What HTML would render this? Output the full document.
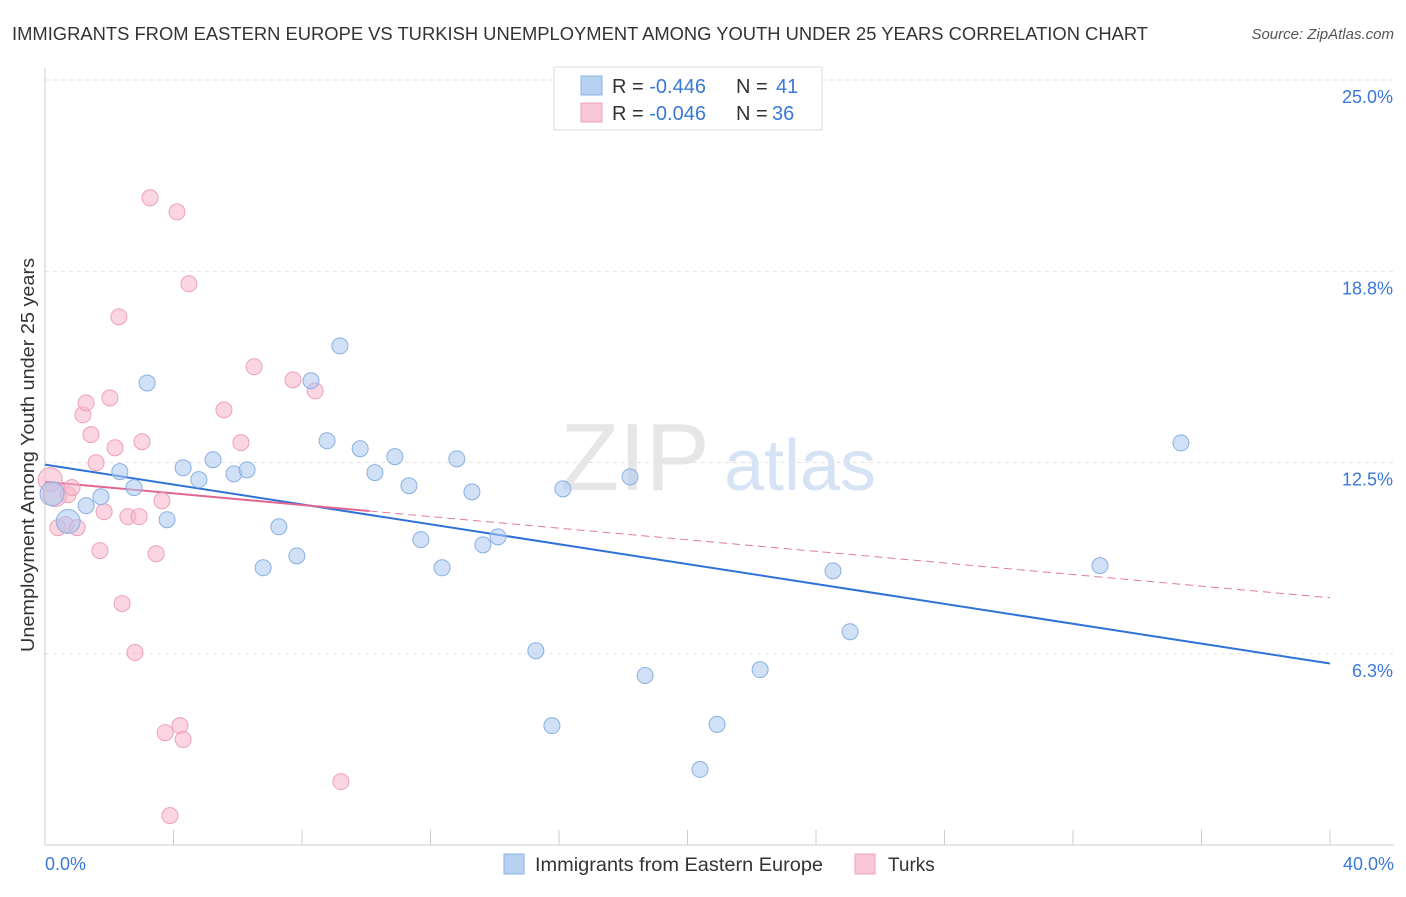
<!DOCTYPE html>
<html><head><meta charset="utf-8"><style>
body{margin:0;background:#fff;font-family:"Liberation Sans",sans-serif;}
svg text{font-family:"Liberation Sans",sans-serif;}
</style></head><body>
<svg id="chart" width="1406" height="892">
<text x="12" y="40" font-size="18" fill="#333" textLength="1136" lengthAdjust="spacingAndGlyphs">IMMIGRANTS FROM EASTERN EUROPE VS TURKISH UNEMPLOYMENT AMONG YOUTH UNDER 25 YEARS CORRELATION CHART</text>
<text x="1394" y="39" font-size="15" fill="#555" font-style="italic" text-anchor="end">Source: ZipAtlas.com</text>
<text x="635" y="490" font-size="96" fill="#e6e6e6" font-family="Liberation Serif,serif" text-anchor="middle">ZIP</text>
<text x="800" y="490" font-size="72" fill="#d6e3f5" text-anchor="middle">atlas</text>
<text transform="translate(34,455) rotate(-90)" font-size="18" fill="#333" text-anchor="middle" textLength="394" lengthAdjust="spacingAndGlyphs">Unemployment Among Youth under 25 years</text>
<g id="grid"></g><g id="trends"></g><g id="dots"></g>
<g>
<rect x="554" y="67" width="268" height="63" fill="#fff" stroke="#ddd"/>
<rect x="581" y="76" width="21" height="19" fill="#b8d1f3" stroke="#8ab0e0"/>
<text x="612" y="93" font-size="20" fill="#333">R = <tspan fill="#3a78d8">-0.446</tspan><tspan x="736">N = </tspan><tspan x="776" fill="#3a78d8">41</tspan></text>
<rect x="581" y="103" width="21" height="19" fill="#f9c6d6" stroke="#eea0b8"/>
<text x="612" y="120" font-size="20" fill="#333">R = <tspan fill="#3a78d8">-0.046</tspan><tspan x="736">N = </tspan><tspan x="772" fill="#3a78d8">36</tspan></text>
</g>
<g>
<rect x="504" y="854" width="20" height="20" fill="#b8d1f3" stroke="#8ab0e0"/>
<text x="535" y="871" font-size="19" fill="#333" textLength="288" lengthAdjust="spacingAndGlyphs">Immigrants from Eastern Europe</text>
<rect x="855" y="854" width="20" height="20" fill="#f9c6d6" stroke="#eea0b8"/>
<text x="888" y="871" font-size="19" fill="#333">Turks</text>
</g>
</svg>
<script>
const yTicks=[25,18.75,12.5,6.25];
const yTickLabels=["25.0%","18.8%","12.5%","6.3%"];
const xTickCount=10;
const xLabels=["0.0%","40.0%"];
const blueX=[0.22,0.72,1.28,1.74,2.33,2.77,3.18,3.80,4.30,4.79,5.23,5.88,6.29,6.79,7.28,7.84,8.28,8.78,9.18,9.81,10.27,10.89,11.33,11.70,12.36,12.82,13.29,13.63,14.10,15.28,15.78,16.12,18.21,18.68,20.39,20.92,22.26,24.53,25.06,32.84,35.36];
const blueY=[11.48,10.57,11.09,11.38,12.20,11.68,15.10,10.63,12.33,11.94,12.59,12.13,12.26,9.06,10.40,9.45,15.17,13.21,16.31,12.95,12.17,12.69,11.74,9.98,9.06,12.62,11.54,9.81,10.07,6.35,3.90,11.64,12.03,5.54,2.47,3.94,5.73,8.96,6.97,9.13,13.14];
const pinkX=[0.16,0.31,0.40,0.65,0.72,0.84,1.00,1.18,1.28,1.43,1.59,1.71,1.84,2.02,2.18,2.30,2.40,2.58,2.80,2.93,3.02,3.27,3.46,3.64,3.74,3.89,4.11,4.20,4.30,4.48,5.57,6.10,6.51,7.72,8.41,9.21];
const pinkY=[11.94,11.45,10.37,10.47,11.45,11.68,10.37,14.06,14.45,13.41,12.49,9.62,10.89,14.61,12.98,17.26,7.89,10.73,6.29,10.73,13.18,21.15,9.52,11.25,3.67,0.96,20.69,3.90,3.45,18.34,14.22,13.15,15.63,15.20,14.84,2.07];
const blueTrend=[12.43,5.93];
const pinkTrend=[11.87,8.08];
const pinkSolidEnd=10.1;
const bigBlue=[0,1];const bigPink=[0,1];
const NS="http://www.w3.org/2000/svg";
const X=v=>45+v*32.125, Y=v=>80+(25-v)*30.6;
function mk(t,a,p){const e=document.createElementNS(NS,t);for(const k in a)e.setAttribute(k,a[k]);p.appendChild(e);return e;}
const grid=document.getElementById('grid');
yTicks.forEach((t,i)=>{
 const l=mk('line',{x1:45,x2:1394,y1:Y(t),y2:Y(t),stroke:'#e2e2e2','stroke-dasharray':'4,4'},grid);
 
 
 const tx=mk('text',{x:1393,y:Y(t)+23,'font-size':18,fill:'#3a78d8','text-anchor':'end'},grid);tx.textContent=yTickLabels[i];
 
 
});
const ax=mk('line',{x1:45,x2:1394,y1:845,y2:845,stroke:'#ccc'},grid);


const ay=mk('line',{x1:45,x2:45,y1:68,y2:845,stroke:'#ccc'},grid);


for(let i=0;i<=xTickCount;i++){const xx=X(i*40/xTickCount);const t=mk('line',{x1:xx,x2:xx,y1:830,y2:845,stroke:'#ccc'},grid);
 
 }
[[0,'start',45],[40,'end',1394]].forEach((a,i)=>{const t=mk('text',{x:a[2],y:870,'font-size':18,fill:'#3a78d8','text-anchor':a[1]},grid);t.textContent=xLabels[i];
 
 });
const dots=document.getElementById('dots');
pinkX.forEach((x,i)=>{const c=mk('circle',{cx:X(x),cy:Y(pinkY[i]),r:bigPink.includes(i)?12:8,fill:'rgba(247,180,202,0.55)',stroke:'#eea0b8','stroke-width':1},dots);
 
 });
blueX.forEach((x,i)=>{const c=mk('circle',{cx:X(x),cy:Y(blueY[i]),r:bigBlue.includes(i)?12:8,fill:'rgba(170,200,240,0.55)',stroke:'#8ab0e0','stroke-width':1},dots);
 
 });
const tr=document.getElementById('trends');
const pAt=x=>pinkTrend[0]+(pinkTrend[1]-pinkTrend[0])*x/40;
const pd=mk('line',{x1:X(pinkSolidEnd),y1:Y(pAt(pinkSolidEnd)),x2:X(40),y2:Y(pinkTrend[1]),stroke:'#e27a9c','stroke-width':1,'stroke-dasharray':'8,5'},tr);


const bl=mk('line',{x1:X(0),y1:Y(blueTrend[0]),x2:X(40),y2:Y(blueTrend[1]),stroke:'#2f72d8','stroke-width':2},tr);


const ps=mk('line',{x1:X(0),y1:Y(pinkTrend[0]),x2:X(pinkSolidEnd),y2:Y(pAt(pinkSolidEnd)),stroke:'#e06690','stroke-width':2},tr);


</script>
</body></html>
